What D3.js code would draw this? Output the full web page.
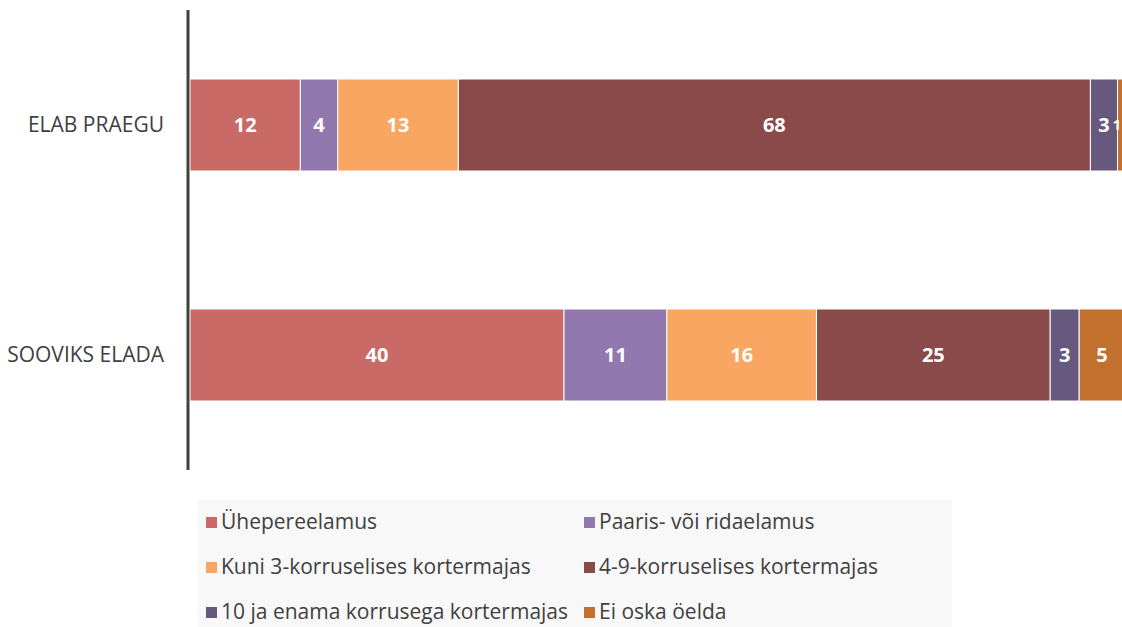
<!DOCTYPE html>
<html lang="et">
<head>
<meta charset="UTF-8">
<script src="https://d3js.org/d3.v7.min.js"></script>
<style>
  body { margin: 0; background: #fff; font-family: "Open Sans", "Noto Sans", Arial, sans-serif; }
  svg { display: block; }
</style>
</head>
<body>
<div id="vis"></div>
<script>
// categories (rows) and series (stack parts)
const categories = ['ELAB PRAEGU', 'SOOVIKS ELADA'];
const seriesNames = [
  'Ühepereelamus',
  'Paaris- või ridaelamus',
  'Kuni 3-korruselises kortermajas',
  '4-9-korruselises kortermajas',
  '10 ja enama korrusega kortermajas',
  'Ei oska öelda'
];
// values per series, in category order (labels are rounded)
const uhepere   = [11.8, 40.0];
const paaris    = [4.0, 11.0];
const kuni3     = [12.9, 16.0];
const korrus49  = [67.6, 25.0];
const korrus10  = [2.9, 3.1];
const eiOska    = [0.8, 4.9];
const seriesValues = [uhepere, paaris, kuni3, korrus49, korrus10, eiOska];

const colours = ['#c96a67', '#9179b0', '#f8a662', '#8b4a4a', '#67597d', '#c2702e'];

const width = 1122;
const height = 627;

const svg = d3.select('#vis').append('svg')
  .attr('width', width)
  .attr('height', height);

// build rows for d3.stack
const rows = categories.map((c, i) => {
  const r = { cat: c };
  seriesNames.forEach((s, j) => { r[s] = seriesValues[j][i]; });
  return r;
});
const stacked = d3.stack().keys(seriesNames)(rows);

const x = d3.scaleLinear().domain([0, 100]).range([190, 1125]);
const y = d3.scaleBand().domain(categories).range([10, 470]).paddingInner(0.6).paddingOuter(0.3);

const colour = d3.scaleOrdinal().domain(seriesNames).range(colours);

const layers = svg.selectAll('.layer')
  .data(stacked)
  .enter().append('g')
  .attr('fill', d => colour(d.key));

layers.selectAll('rect')
  .data(d => d)
  .enter().append('rect')
  .attr('x', d => x(d[0]))
  .attr('y', d => y(d.data.cat))
  .attr('width', d => x(d[1]) - x(d[0]))
  .attr('height', y.bandwidth())
  .attr('stroke', '#fff')
  .attr('stroke-width', 1);

// value labels; a very narrow segment at the right edge gets a smaller label kept inside the picture
const narrow = d => x(d[1]) - x(d[0]) < 15;
layers.selectAll('text')
  .data(d => d)
  .enter().append('text')
  .attr('x', d => narrow(d) ? width - 1 : (x(d[0]) + x(d[1])) / 2)
  .attr('y', d => y(d.data.cat) + y.bandwidth() / 2)
  .attr('dy', '0.36em')
  .attr('text-anchor', d => narrow(d) ? 'end' : 'middle')
  .attr('fill', '#fff')
  .style('font-weight', 'bold')
  .style('font-size', d => narrow(d) ? '15px' : '20px')
  .text(d => Math.round(d[1] - d[0]));

// category axis: vertical line + labels
svg.append('line')
  .attr('x1', 188).attr('x2', 188)
  .attr('y1', 10).attr('y2', 470)
  .attr('stroke', '#404040')
  .attr('stroke-width', 3);

svg.selectAll('.cat')
  .data(categories)
  .enter().append('text')
  .attr('x', 164)
  .attr('y', d => y(d) + y.bandwidth() / 2)
  .attr('dy', '0.35em')
  .attr('text-anchor', 'end')
  .attr('fill', '#404040')
  .style('font-size', '21px')
  .text(d => d);

// legend
svg.append('rect')
  .attr('x', 198).attr('y', 500)
  .attr('width', 754).attr('height', 127)
  .attr('fill', '#f8f8f8');

const legend = svg.selectAll('.legend')
  .data(seriesNames)
  .enter().append('g')
  .attr('transform', (d, i) => `translate(${i % 2 === 0 ? 206 : 584},${522 + Math.floor(i / 2) * 45})`);

legend.append('rect')
  .attr('x', 0).attr('y', -5)
  .attr('width', 11).attr('height', 11)
  .attr('fill', d => colour(d));

legend.append('text')
  .attr('x', 15)
  .attr('y', 0)
  .attr('dy', '0.35em')
  .attr('fill', '#404040')
  .style('font-size', '21px')
  .text(d => d);
</script>
</body>
</html>
